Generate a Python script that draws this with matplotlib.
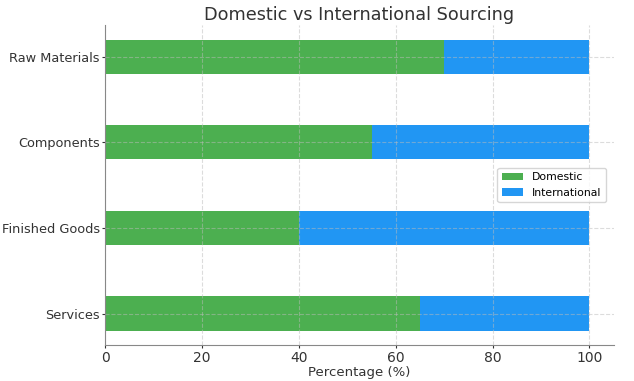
import matplotlib
matplotlib.use("Agg")
import matplotlib.pyplot as plt
import numpy as np

categories = ["Raw Materials", "Components", "Finished Goods", "Services"]
domestic = [70, 55, 40, 65]
international = [30, 45, 60, 35]

fig = plt.figure(figsize=(6.34, 3.81), dpi=100)
ax = fig.add_axes([0.166, 0.094, 0.802, 0.84])

y = np.arange(len(categories))
ax.barh(y, domestic, height=0.4, color="#4CAF50", label="Domestic")
ax.barh(y, international, height=0.4, left=domestic, color="#2196F3", label="International")
ax.set_yticks(y)
ax.set_yticklabels(categories, color="#333333", fontsize=9.3)
ax.invert_yaxis()
ax.set_xlim(0, 105)
ax.set_xticks([0, 20, 40, 60, 80, 100])
ax.tick_params(axis="x", labelsize=10, colors="#333333", pad=1.5, length=2.5)
ax.tick_params(axis="y", colors="#333333", pad=1.5, length=2.5)
ax.set_xlabel("Percentage (%)", fontsize=9.5, color="#333333", labelpad=1)
ax.set_title("Domestic vs International Sourcing", fontsize=12.7, color="#333333", pad=4)
ax.grid(True, linestyle="--", color="#bbbbbb", alpha=0.5, linewidth=0.8)
for s in ["top", "right"]:
    ax.spines[s].set_visible(False)
for s in ["left", "bottom"]:
    ax.spines[s].set_color("#888888")
ax.legend(loc="center right", fontsize=7.8, framealpha=0.8,
          bbox_to_anchor=(0.995, 0.5))
fig.savefig("out.png", dpi=100)
